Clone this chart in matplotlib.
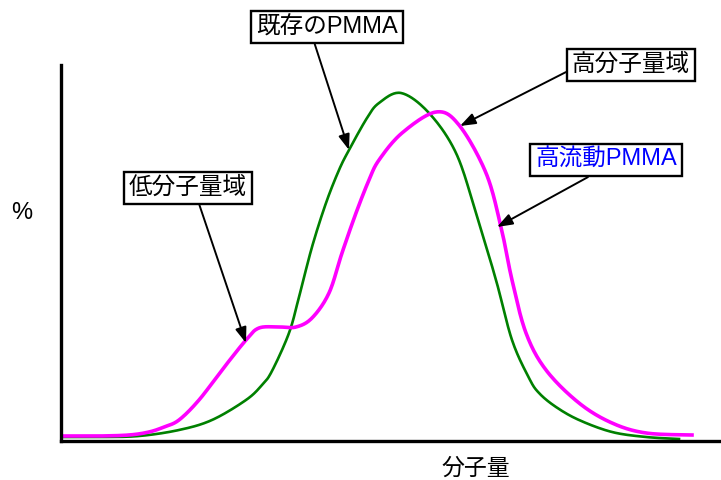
import numpy as np
import matplotlib
matplotlib.use('Agg')
import matplotlib.pyplot as plt

plt.rcParams['font.family'] = ['Liberation Sans', 'Noto Sans CJK JP', 'DejaVu Sans']

### Data (arbitrary units: molecular weight vs %)
x_old = [0, 38, 78, 118, 151, 185, 201, 211, 228, 238, 251, 265, 278, 288, 306, 318,
         340, 368, 395, 415, 435, 451, 468, 478, 495, 518, 551, 585, 618]
y_old = [4, 4, 5, 11, 21, 41, 56, 70, 108, 144, 194, 238, 271, 291, 323, 338,
         348, 328, 288, 228, 161, 101, 63, 48, 34, 21, 9, 4, 2]

x_new = [0, 38, 68, 88, 103, 118, 138, 161, 185, 198, 218, 235, 251, 268, 281,
         295, 308, 318, 341, 375, 398, 425, 440, 451, 465, 485, 518, 551, 585, 631]
y_new = [5, 5, 6, 9, 14, 21, 41, 71, 101, 113, 114, 114, 123, 148, 188,
         228, 261, 281, 308, 329, 316, 268, 214, 161, 108, 71, 38, 18, 8, 6]

labels = ['既存のPMMA', '高分子量域', '高流動PMMA', '低分子量域']
targets = [(288, 291), (399, 315), (436, 214), (185, 98)]
textpos = [(327, 480 - 27), (631, 480 - 65), (606, 480 - 160), (188, 480 - 188)]
relpos = [(0.4, 0.0), (0.0, 0.32), (0.45, 0.0), (0.58, 0.0)]
tcolors = ['black', 'black', '#0000ff', 'black']


def smooth(xs, ys, n=20):
    # Catmull-Rom, only to draw a smooth line through the read points
    p = np.column_stack([xs, ys]).astype(float)
    p = np.vstack([p[0], p, p[-1]])
    out = []
    t = np.linspace(0, 1, n, endpoint=False)[:, None]
    for i in range(1, len(p) - 2):
        p0, p1, p2, p3 = p[i - 1], p[i], p[i + 1], p[i + 2]
        seg = 0.5 * ((2 * p1) + (-p0 + p2) * t + (2 * p0 - 5 * p1 + 4 * p2 - p3) * t**2
                     + (-p0 + 3 * p1 - 3 * p2 + p3) * t**3)
        out.append(seg)
    out.append(p[-2][None, :])
    out = np.vstack(out)
    return out[:, 0], out[:, 1]


fig = plt.figure(figsize=(7.21, 4.80), dpi=100)
ax = fig.add_axes([61/721, 39/480, 659/721, 376/480])

ax.plot(*smooth(x_old, y_old), color='#008000', lw=1.9, solid_joinstyle='round')
ax.plot(*smooth(x_new, y_new), color='#ff00ff', lw=2.6, solid_joinstyle='round')

ax.set_xlim(0, 659)
ax.set_ylim(0, 376)
ax.set_xticks([])
ax.set_yticks([])
for s in ['top', 'right']:
    ax.spines[s].set_visible(False)
for s in ['left', 'bottom']:
    ax.spines[s].set_linewidth(2.4)
    ax.spines[s].set_color('black')

for lab, tg, tp, rp, tc in zip(labels, targets, textpos, relpos, tcolors):
    ax.annotate(lab, xy=tg, xycoords='data', xytext=tp, textcoords='figure pixels',
                ha='center', va='center', fontsize=17, color=tc,
                bbox=dict(boxstyle='square,pad=0.22', fc='white', ec='black', lw=1.7),
                arrowprops=dict(arrowstyle='-|>,head_length=0.55,head_width=0.2',
                                color='black', lw=1.4, shrinkA=0, shrinkB=0,
                                relpos=rp))

fig.text(22/721, 1 - 213/480, '%', fontsize=17, ha='center', va='center')
fig.text(476/721, 1 - 468/480, '分子量', fontsize=16.5, ha='center', va='center')

plt.savefig('out.png', dpi=100)
